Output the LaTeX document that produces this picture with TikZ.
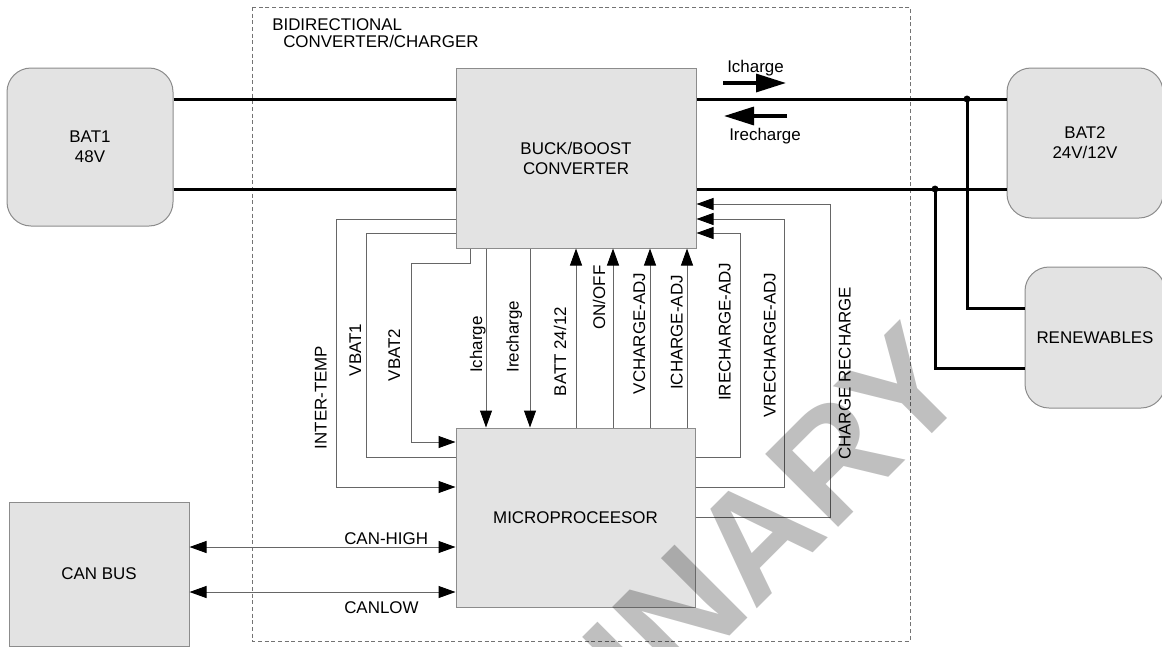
\documentclass[tikz,border=0pt]{standalone}
\usepackage{fontspec}
\setmainfont{Liberation Sans}
\usetikzlibrary{arrows.meta,calc}

\begin{document}
\begin{tikzpicture}[x=0.75pt, y=-0.75pt,
    >={Triangle[length=12.75pt,width=9pt,color=black]},
    txt/.style={font=\fontsize{12.7}{15}\selectfont},
    box/.style={draw=black!45, line width=0.75pt, fill=black!11, txt, align=center},
    rbox/.style={box, rounded corners=18pt},
    bus/.style={black, line width=2.25pt},
    sig/.style={black!60, line width=0.75pt},
    vlab/.style={txt, rotate=90, anchor=base, inner sep=0pt},
    hlab/.style={txt, anchor=base west, inner sep=0pt},
    flow/.style={black, line width=2.5pt, -{Triangle[length=22.5pt,width=13.5pt]}}]

    \useasboundingbox (0,0) rectangle (1162,646);
    \clip (0,0) rectangle (1162,646);

    % Converter frame
    \draw[black!55, line width=0.6pt, dash pattern=on 3pt off 2pt] (252,7) rectangle (910,641);
    \node[hlab] (title1) at (272,30.7) {BIDIRECTIONAL};
    \node[hlab] (title2) at (283,47.7) {CONVERTER/CHARGER};

    % Blocks
    \node[rbox, minimum width=124.5pt, minimum height=118.5pt] (bat1) at (90,147) {BAT1\\48V};
    \node[box, minimum width=180pt, minimum height=135pt] (bb) at (576,158) {BUCK/BOOST\\CONVERTER};
    \node[box, minimum width=179.25pt, minimum height=134.25pt] (mp) at (575.5,517.5) {MICROPROCEESOR};
    \node[rbox, minimum width=117pt, minimum height=112.5pt] (bat2) at (1085,143) {BAT2\\24V/12V};
    \node[rbox, minimum width=105pt, minimum height=105.75pt] (ren) at (1095,337.5) {RENEWABLES};
    \node[box, minimum width=135pt, minimum height=108pt] (canbus) at (99,574) {CAN BUS};

    % Power lines
    \coordinate (hi) at (0,99);
    \coordinate (lo) at (0,189);
    \draw[bus] (bat1.east |- hi) -- (bb.west |- hi);
    \draw[bus] (bat1.east |- lo) -- (bb.west |- lo);
    \draw[bus] (bb.east |- hi) -- (bat2.west |- hi);
    \draw[bus] (bb.east |- lo) -- (bat2.west |- lo);
    \coordinate (ja) at (967,99);
    \coordinate (jb) at (935,189);
    \fill (ja) circle[radius=2.6pt];
    \fill (jb) circle[radius=2.6pt];
    \draw[bus] (ja) |- ($(ren.west)+(0,-29.5)$);
    \draw[bus] (jb) |- ($(ren.west)+(0,30.5)$);

    % Current direction
    \coordinate (fa1) at (723,83);
    \coordinate (fa2) at (786,83);
    \coordinate (fb1) at (787,116);
    \coordinate (fb2) at (724,116);
    \draw[flow] (fa1) -- (fa2);
    \draw[flow] (fb1) -- (fb2);
    \node[hlab] (lich) at (727,72.5) {Icharge};
    \node[hlab] (lirch) at (729,140.7) {Irecharge};

    % Feedback to the microprocessor
    \draw[sig,->] (bb.west |- 0,219) -| (336,487) -- (mp.west |- 0,487);
    \draw[sig] (bb.west |- 0,233) -| (366,457) -- (mp.west |- 0,457);
    \draw[sig,->] (bb.south -| 470,0) |- (411,263) |- (mp.west |- 0,442);
    \foreach \xx in {486,530}
        \draw[sig,->] (bb.south -| \xx,0) -- (mp.north -| \xx,0);

    % Control to the converter
    \foreach \xx in {576,613,650,687}
        \draw[sig,->] (mp.north -| \xx,0) -- (bb.south -| \xx,0);
    \draw[sig,->] (mp.east |- 0,457) -| (740,233) -- (bb.east |- 0,233);
    \draw[sig,->] (mp.east |- 0,487) -| (784,219) -- (bb.east |- 0,219);
    \draw[sig,->] (mp.east |- 0,517) -| (830,204) -- (bb.east |- 0,204);

    % CAN
    \draw[sig,<->] (canbus.east |- 0,547) -- (mp.west |- 0,547);
    \draw[sig,<->] (canbus.east |- 0,592) -- (mp.west |- 0,592);
    \node[hlab] (lcanh) at (344,544) {CAN-HIGH};
    \node[hlab] (lcanl) at (344,613.5) {CANLOW};

    % Signal names
    \node[vlab] (ltemp) at (326.5,397.5) {INTER-TEMP};
    \node[vlab] (lvb1) at (361,350) {VBAT1};
    \node[vlab] (lvb2) at (400,355) {VBAT2};
    \node[vlab] (lic) at (482,344.7) {Icharge};
    \node[vlab] (lir) at (518.5,336.7) {Irecharge};
    \node[vlab] (lbatt) at (566,351.7) {BATT 24/12};
    \node[vlab] (lonoff) at (605,297.5) {ON/OFF};
    \node[vlab] (lvca) at (645,333.5) {VCHARGE-ADJ};
    \node[vlab] (lica) at (682.5,332.5) {ICHARGE-ADJ};
    \node[vlab] (lira) at (730.5,331.7) {IRECHARGE-ADJ};
    \node[vlab] (lvra) at (775.5,345) {VRECHARGE-ADJ};
    \node[vlab] (lcr) at (850.5,373.3) {CHARGE RECHARGE};

    % Watermark
    \node[anchor=base west, rotate=45, inner sep=0pt, font=\fontsize{112.5}{112.5}\selectfont\bfseries,
          text=black, text opacity=0.25] (wmark) at (248,1118) {PRELIMINARY};
\end{tikzpicture}
\end{document}
